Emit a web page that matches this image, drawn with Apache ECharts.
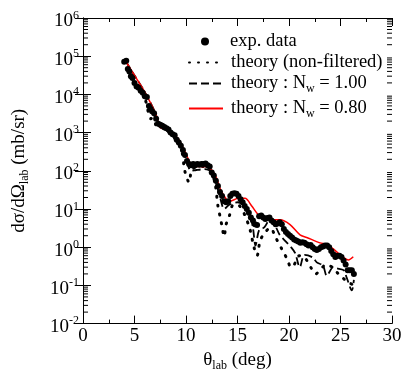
<!DOCTYPE html>
<html><head><meta charset="utf-8">
<script src="https://cdn.jsdelivr.net/npm/echarts@6/dist/echarts.min.js"></script>
<style>html,body{margin:0;padding:0;background:#fff}#c{width:408px;height:377px}</style>
</head><body><div id="c"></div>
<script>
const xTickLabels = ['0','5','10','15','20','25','30'];
const yTickExponents = ['-2','-1','0','1','2','3','4','5','6'];
const yMinorMultipliers = [2,3,4,5,6,7,8,9];
const seriesNames = ['exp. data', 'theory (non-filtered)', 'theory : N_w = 1.00', 'theory : N_w = 0.80'];

const expData = [
 [4.0,7.2e4],[4.2,7.6e4],[4.35,4.6e4],[4.5,4.0e4],[4.65,3.0e4],[4.8,2.7e4],[5.0,2.0e4],[5.2,1.6e4],[5.4,1.5e4],[5.6,1.25e4],
 [5.8,1.1e4],[6.0,9.0e3],[6.2,8.5e3],[6.4,5.0e3],[6.55,4.2e3],[6.7,3.6e3],[6.9,3.2e3],[7.1,2.3e3],[7.3,1.7e3],[7.5,1.6e3],
 [7.7,1.5e3],[7.9,1.4e3],[8.1,1.3e3],[8.3,1.2e3],[8.5,1.0e3],[8.7,9.0e2],[8.9,8.5e2],[9.1,6.5e2],[9.3,5.5e2],[9.5,4.5e2],
 [9.7,3.5e2],[9.9,2.6e2],[10.1,1.8e2],[10.3,1.5e2],[10.5,1.4e2],[10.7,1.5e2],[10.9,1.4e2],[11.1,1.5e2],[11.3,1.45e2],[11.5,1.5e2],
 [11.7,1.5e2],[11.9,1.55e2],[12.1,1.4e2],[12.3,1.3e2],[12.5,9.0e1],[12.7,7.5e1],[12.9,5.5e1],[13.1,4.0e1],[13.3,2.8e1],[13.5,2.2e1],
 [13.7,1.6e1],[13.9,1.5e1],[14.1,1.6e1],[14.3,2.2e1],[14.5,2.5e1],[14.7,2.6e1],[14.9,2.5e1],[15.1,2.2e1],[15.3,1.8e1],[15.5,1.5e1],
 [15.7,1.2e1],[15.9,1.0e1],[16.1,8.0],[16.3,6.0],[16.5,5.0],[16.7,4.0],[16.9,3.8],[17.1,6.5],[17.3,6.8],[17.5,6.0],
 [17.7,5.5],[17.9,5.8],[18.1,6.0],[18.3,5.0],[18.5,4.5],[18.7,4.0],[18.9,4.2],[19.1,4.5],[19.3,4.0],[19.5,3.0],
 [19.7,2.5],[19.9,2.2],[20.1,2.0],[20.3,1.8],[20.5,1.6],[20.7,1.5],[20.9,1.4],[21.1,1.3],[21.3,1.35],[21.5,1.3],
 [21.7,1.2],[21.9,1.1],[22.1,1.15],[22.3,1.0],[22.5,0.9],[22.7,0.85],[22.9,0.9],[23.1,1.0],[23.3,1.05],[23.5,1.1],
 [23.7,1.1],[23.9,1.0],[24.1,0.8],[24.3,0.65],[24.5,0.55],[24.7,0.6],[24.9,0.6],[25.1,0.55],[25.3,0.45],[25.5,0.35],
 [25.7,0.25],[25.9,0.25],[26.1,0.25],[26.3,0.2]
];

const theoryNonFiltered = [
 [4.15,7.4e4],[4.7,3.5e4],[5.4,1.6e4],[6.0,8.0e3],[6.6,2.3e3],[6.9,3.3e3],[7.15,1.3e3],[7.6,1.4e3],[8.4,1.0e3],[9.2,5.5e2],
 [9.6,3.2e2],[9.9,9.5e1],[10.3,5.0e1],[10.6,1.1e2],[11.5,1.3e2],[12.3,1.1e2],[12.8,5.0e1],[13.1,1.2e1],[13.3,6.5],[13.5,3.5],
 [13.7,1.9],[13.9,4.0],[14.2,6.5],[14.6,1.3e1],[15.2,1.2e1],[15.7,7.0],[16.2,3.0],[16.6,1.0],[16.9,0.6],[17.2,1.5],
 [17.7,2.5],[18.2,3.2],[18.7,1.8],[19.3,0.9],[19.8,0.5],[20.2,0.3],[20.5,0.35],[21.0,0.6],[21.6,0.5],[22.1,0.3],
 [22.6,0.2],[23.0,0.25],[23.6,0.35],[24.2,0.3],[24.8,0.2],[25.3,0.15],[25.8,0.12],[26.3,0.1]
];

const theoryNw100 = [
 [4.15,7.4e4],[4.73,4.1e4],[5.85,1.35e4],[7.0,3.4e3],[7.5,1.4e3],[8.45,1.0e3],[9.25,6.0e2],[9.9,2.5e2],[10.5,1.0e2],[11.0,1.05e2],
 [11.8,1.1e2],[12.5,9.0e1],[13.0,4.0e1],[13.4,1.6e1],[13.7,1.0e1],[14.2,1.3e1],[15.0,1.5e1],[15.7,1.2e1],[16.2,7.0],[16.5,3.2],
 [16.75,1.1],[17.1,2.8],[17.6,3.3],[18.2,5.6],[18.6,4.0],[19.1,2.1],[19.7,1.4],[20.2,1.0],[20.6,0.7],[21.05,0.3],
 [21.5,0.63],[22.3,0.54],[22.7,0.4],[23.3,0.33],[23.66,0.18],[24.3,0.3],[24.6,0.28],[25.3,0.25],[25.6,0.16],[26.1,0.074],[26.3,0.14]
];

const theoryNw080 = [
 [4.15,7.4e4],[4.73,4.1e4],[5.85,1.35e4],[6.99,3.4e3],[7.48,1.4e3],[8.0,1.25e3],[8.45,1.1e3],[9.25,6.9e2],[9.9,3.2e2],[10.71,1.3e2],
 [11.19,1.3e2],[11.84,1.3e2],[12.49,1.05e2],[12.98,6.3e1],[13.3,3.5e1],[13.95,1.75e1],[14.27,1.6e1],[15.08,1.9e1],[15.73,1.9e1],[16.38,1.2e1],
 [17.02,7.1],[17.83,5.2],[19.13,5.2],[20.1,3.9],[21.07,2.1],[21.72,1.8],[23.01,1.3],[23.66,1.2],[24.3,0.9],[25.27,0.54],
 [25.76,0.46],[26.24,0.56]
];

// minor tick positions on the log axis (2..9 x 10^k), drawn on both frame sides
const yMinorLeft = [];
const yMinorRight = [];
for (let k = -2; k < 6; k++) {
  yMinorMultipliers.forEach(function (m) {
    const v = m * Math.pow(10, k);
    yMinorLeft.push([0, v]);
    yMinorRight.push([30, v]);
  });
}

const FONT = 'Liberation Serif';
const chart = echarts.init(document.getElementById('c'), null, {renderer: 'canvas'});

function legendFmt(name) {
  if (name.indexOf('N_w') >= 0) {
    const parts = name.split('N_w');
    return parts[0] + 'N{sub|w}' + parts[1];
  }
  return name;
}
function mkLegend(name, top, left, iw, padLeft) {
  return {
    data: [name], left: left, top: top, itemWidth: iw, itemHeight: 8, itemGap: 0, padding: 0,
    selectedMode: false, formatter: legendFmt,
    itemStyle: { opacity: name === seriesNames[0] ? 1 : 0 },
    textStyle: {
      fontFamily: FONT, fontSize: 18.5, color: '#000', padding: [0, 0, 0, padLeft],
      rich: { sub: { fontFamily: FONT, fontSize: 12, color: '#000', padding: [11, 0, 0, 0] } }
    }
  };
}
const axisCommon = {
  axisLine: { show: true, lineStyle: { color: '#000', width: 1 } },
  axisTick: { show: true, inside: true, length: 8, lineStyle: { color: '#000', width: 1 } },
  splitLine: { show: false }
};
const yLabelFmt = function (v) {
  const i = Math.round(Math.log10(v)) + 2;
  return '10{sup|' + yTickExponents[i] + '}';
};

chart.setOption({
  animation: false,
  backgroundColor: '#fff',
  grid: { left: 83, top: 18, width: 309, height: 309, containLabel: false },
  legend: [
    mkLegend(seriesNames[0], 32, 201, 8, 16),
    mkLegend(seriesNames[1], 53, 188, 34, 3),
    mkLegend(seriesNames[2], 74, 188, 34, 3),
    mkLegend(seriesNames[3], 99, 188, 34, 3)
  ],
  xAxis: [
    Object.assign({}, axisCommon, {
      type: 'value', min: 0, max: 30, interval: 5, position: 'bottom',
      minorTick: { show: true, splitNumber: 2, length: 4, lineStyle: { color: '#000' } },
      axisLabel: { fontFamily: FONT, fontSize: 19, color: '#000', margin: 3,
        formatter: function (v) { return xTickLabels[Math.round(v / 5)]; } },
      name: 'θ{sub|lab} (deg)', nameLocation: 'middle', nameGap: 22,
      nameTextStyle: { fontFamily: FONT, fontSize: 19, color: '#000',
        rich: { sub: { fontFamily: FONT, fontSize: 12, color: '#000', padding: [12, 0, 0, 0] } } }
    }),
    Object.assign({}, axisCommon, {
      type: 'value', min: 0, max: 30, interval: 5, position: 'top',
      minorTick: { show: true, splitNumber: 2, length: 4, lineStyle: { color: '#000' } },
      axisLabel: { show: false }
    })
  ],
  yAxis: [
    Object.assign({}, axisCommon, {
      type: 'log', logBase: 10, min: 0.01, max: 1e6, splitNumber: 8, position: 'left',
      minorTick: { show: false },
      axisLabel: { fontFamily: FONT, fontSize: 19, color: '#000', margin: 4, formatter: yLabelFmt,
        padding: [7, 0, 0, 0],
        rich: { sup: { fontFamily: FONT, fontSize: 12, color: '#000', padding: [0, 0, 12, 0] } } },
      name: 'dσ/dΩ{sub|lab} (mb/sr)', nameLocation: 'middle', nameGap: 52, nameRotate: 90,
      nameTextStyle: { fontFamily: FONT, fontSize: 19, color: '#000',
        rich: { sub: { fontFamily: FONT, fontSize: 12, color: '#000', padding: [12, 0, 0, 0] } } }
    }),
    Object.assign({}, axisCommon, {
      type: 'log', logBase: 10, min: 0.01, max: 1e6, splitNumber: 8, position: 'right',
      minorTick: { show: false },
      axisLabel: { show: false }
    })
  ],
  series: [
    { name: 'minorTicksLeft', type: 'scatter', data: yMinorLeft, silent: true, z: 1,
      symbol: 'rect', symbolSize: [5, 1], symbolOffset: [2.5, 0], clip: false,
      itemStyle: { color: '#000', opacity: 1 } },
    { name: 'minorTicksRight', type: 'scatter', data: yMinorRight, silent: true, z: 1,
      symbol: 'rect', symbolSize: [5, 1], symbolOffset: [-2.5, 0], clip: false,
      itemStyle: { color: '#000', opacity: 1 } },
    { name: seriesNames[0], type: 'scatter', data: expData, symbol: 'circle', symbolSize: 6,
      itemStyle: { color: '#000', opacity: 1 }, z: 5 },
    { name: seriesNames[1], type: 'line', data: theoryNonFiltered, symbol: 'none', smooth: 0.3,
      lineStyle: { color: '#000', width: 3, type: [1, 8], cap: 'round' }, itemStyle: { color: '#000' }, z: 3 },
    { name: seriesNames[2], type: 'line', data: theoryNw100, symbol: 'none', smooth: 0.3,
      lineStyle: { color: '#000', width: 1.8, type: [8, 4] }, itemStyle: { color: '#000' }, z: 3 },
    { name: seriesNames[3], type: 'line', data: theoryNw080, symbol: 'none', smooth: 0.3,
      lineStyle: { color: '#ff0000', width: 1.5, type: 'solid' }, itemStyle: { color: '#ff0000' }, z: 4 }
  ]
});
</script></body></html>
